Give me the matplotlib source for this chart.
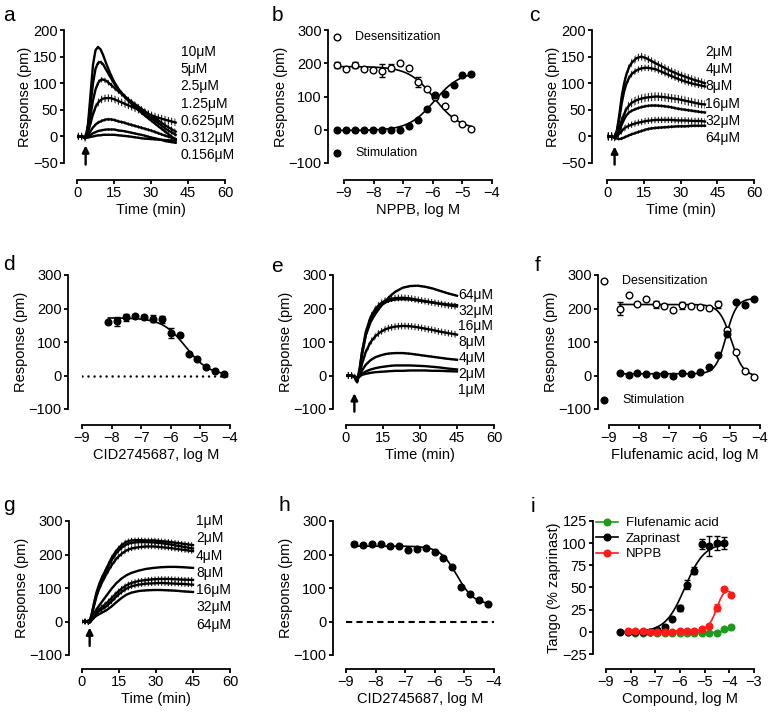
import numpy as np
import matplotlib
matplotlib.use("Agg")
import matplotlib.pyplot as plt

plt.rcParams["font.family"] = ["Liberation Sans", "DejaVu Sans"]
plt.rcParams["hatch.linewidth"] = 0.7

W, H = 768, 714

# ---------------------------------------------- data: time courses (DMR) ---------------------------------------------- #

# panel a: NPPB time course
a_time = [0, 2, 3.5, 4.5, 5.5, 6.5, 7.5, 8.5, 9.5, 10.5, 12, 13.5, 15, 17, 19, 21, 24, 27, 30, 33, 36, 40]
a_labels = ["10μM", "5μM", "2.5μM", "1.25μM", "0.625μM", "0.312μM", "0.156μM"]
a_traces = [
    [0, 0, -3, 25, 80, 135, 162, 168, 164, 154, 135, 118, 103, 88, 76, 66, 53, 41, 30, 19, 8, -6],
    [0, 0, -3, 20, 60, 100, 127, 138, 140, 136, 124, 112, 100, 87, 77, 68, 56, 45, 35, 25, 14, 3],
    [0, 0, -3, 12, 40, 68, 88, 100, 106, 107, 104, 98, 92, 84, 76, 69, 59, 49, 39, 30, 20, 9],
    [0, 0, -3, 8, 25, 42, 55, 63, 68, 71, 72, 72, 70, 66, 62, 58, 52, 46, 40, 35, 31, 26],
    [0, 0, -3, 3, 10, 17, 22, 26, 28, 30, 32, 32, 31, 28, 26, 23, 19, 15, 11, 6, 1, -5],
    [0, 0, -3, 0, 3, 6, 8, 10, 11, 12, 13, 13, 13, 11, 10, 8, 5, 2, -2, -5, -9, -12],
    [0, 0, -3, -2, -1, 0, 1, 2, 2, 3, 3, 3, 3, 2, 1, 0, -2, -4, -5, -6, -7, -8],
]
a_err = [3, 4, 5, 7, 3, 2, 2]
a_arrow = (3.5, -53, -17)

# panel c: flufenamic acid time course
c_time = [0, 2, 3, 4, 5, 6, 7, 8, 9, 10, 12, 14, 16, 18, 20, 23, 26, 29, 32, 35, 38, 40]
c_labels = ["2μM", "4μM", "8μM", "16μM", "32μM", "64μM"]
c_traces = [
    [0, 0, -2, 10, 40, 75, 100, 118, 130, 138, 147, 150, 147, 142, 137, 130, 123, 117, 112, 107, 103, 100],
    [0, 0, -2, 8, 32, 62, 85, 100, 110, 117, 124, 128, 129, 128, 126, 120, 114, 108, 103, 99, 96, 94],
    [0, 0, -2, 3, 15, 30, 42, 52, 58, 63, 68, 71, 73, 74, 75, 74, 72, 70, 67, 64, 61, 60],
    [0, 0, -2, 2, 10, 22, 32, 40, 45, 48, 52, 55, 57, 58, 58, 57, 55, 52, 50, 48, 46, 45],
    [0, 0, -2, 0, 5, 10, 15, 18, 20, 22, 25, 27, 29, 30, 31, 31, 31, 30, 30, 29, 29, 28],
    [0, 0, -2, -4, -5, -4, -2, 0, 2, 4, 7, 10, 13, 15, 16, 17, 18, 19, 19, 20, 20, 20],
]
c_err = [7, 6, 8, 3, 6, 3]
c_arrow = (3.1, -53, -19)

# panel e: CID2745687 time course
e_time = [0, 2, 3, 4, 4.5, 5.5, 6.5, 8, 10, 12, 14, 16, 18, 20, 23, 26, 29, 32, 35, 38, 41, 45]
e_labels = ["64μM", "32μM", "16μM", "8μM", "4μM", "2μM", "1μM"]
e_traces = [
    [0, 0, -2, -10, -15, 20, 70, 120, 160, 185, 205, 222, 238, 250, 262, 267, 268, 265, 260, 253, 246, 238],
    [0, 0, -2, -10, -20, 15, 70, 130, 175, 200, 215, 224, 229, 231, 232, 230, 226, 222, 218, 214, 210, 206],
    [0, 0, -2, -10, -20, 10, 60, 120, 168, 195, 210, 218, 224, 227, 228, 227, 224, 221, 218, 215, 212, 210],
    [0, 0, -2, -8, -15, 5, 35, 70, 100, 118, 130, 138, 143, 146, 148, 147, 144, 140, 136, 131, 127, 122],
    [0, 0, -2, -6, -12, 0, 15, 32, 46, 55, 60, 64, 66, 67, 67, 65, 62, 59, 56, 53, 50, 47],
    [0, 0, -2, -5, -10, -3, 5, 12, 18, 22, 25, 27, 29, 30, 30, 30, 29, 28, 26, 24, 21, 18],
    [0, 0, -2, -4, -8, -3, 2, 5, 8, 10, 11, 12, 13, 14, 14, 15, 15, 15, 14, 14, 13, 12],
]
e_err = [3, 10, 4, 10, 3, 2, 2]
e_arrow = (3.4, -108, -53)

# panel g: CID2745687 time course (second cell line)
g_time = [0, 2, 3, 4, 5, 6, 7, 8, 10, 12, 14, 16, 18, 20, 23, 26, 29, 32, 35, 38, 41, 45]
g_labels = ["1μM", "2μM", "4μM", "8μM", "16μM", "32μM", "64μM"]
g_traces = [
    [0, 0, -3, 25, 60, 90, 112, 130, 160, 190, 212, 228, 238, 242, 243, 242, 242, 240, 238, 235, 232, 228],
    [0, 0, -3, 22, 55, 85, 107, 125, 155, 183, 205, 220, 230, 235, 237, 237, 236, 234, 231, 227, 223, 218],
    [0, 0, -3, 20, 50, 78, 98, 115, 143, 168, 188, 202, 212, 218, 222, 224, 224, 222, 220, 217, 214, 210],
    [0, 0, -3, 10, 25, 38, 48, 58, 78, 98, 115, 128, 138, 145, 152, 157, 160, 162, 163, 163, 162, 160],
    [0, 0, -3, 8, 20, 30, 37, 43, 55, 70, 85, 98, 108, 115, 121, 124, 126, 127, 127, 126, 125, 124],
    [0, 0, -3, 6, 16, 25, 31, 36, 46, 60, 75, 88, 98, 105, 110, 113, 114, 115, 114, 113, 112, 110],
    [0, 0, -3, 4, 12, 18, 22, 26, 34, 45, 58, 70, 80, 86, 91, 93, 94, 94, 93, 92, 90, 88],
]
g_err = [8, 8, 8, 2, 8, 8, 3]
g_arrow = (3.1, -73, -18)

# ---------------------------------------------- data: dose responses ---------------------------------------------- #

# panel b: NPPB
b_logM = [-9.24, -8.94, -8.63, -8.33, -8.03, -7.72, -7.42, -7.12, -6.81, -6.51, -6.21, -5.91, -5.60, -5.30, -5.00, -4.70]
b_desens = [195, 183, 195, 182, 180, 178, 187, 200, 187, 145, 122, 100, 70, 35, 18, 1]
b_desens_err = [8, 0, 10, 0, 0, 20, 10, 5, 0, 15, 0, 0, 0, 0, 0, 0]
b_stim = [0, 0, 0, 0, -2, -2, 0, 0, 12, 30, 63, 105, 107, 135, 165, 168]
b_desens_fit = (0, 190, -5.95, -1.0)
b_stim_fit = (-2, 175, -5.95, 1.0)

# panel d: CID2745687
d_logM = [-8.11, -7.81, -7.51, -7.21, -6.91, -6.61, -6.31, -6.00, -5.70, -5.40, -5.10, -4.80, -4.50, -4.20]
d_resp = [159, 162, 174, 177, 175, 170, 168, 127, 120, 64, 50, 25, 14, 3]
d_err = [0, 14, 10, 5, 6, 10, 10, 15, 0, 0, 0, 0, 0, 0]
d_fit = (0, 172, -5.5, -1.1)

# panel f: flufenamic acid
f_logM = [-8.65, -8.35, -8.06, -7.76, -7.46, -7.17, -6.87, -6.57, -6.28, -5.98, -5.68, -5.39, -5.09, -4.79, -4.50, -4.20]
f_desens = [200, 239, 214, 227, 212, 207, 195, 209, 207, 205, 202, 212, 135, 70, 14, -3]
f_desens_err = [20, 0, 0, 0, 10, 0, 0, 10, 0, 0, 0, 10, 0, 0, 0, 0]
f_stim = [7, 2, 7, 4, 2, 5, 0, 7, 4, 9, 24, 60, 125, 220, 210, 227]
f_desens_fit = (-3, 212, -4.95, -2.2)
f_stim_fit = (5, 230, -5.12, 2.5)

# panel h: CID2745687 (second cell line)
h_logM = [-8.72, -8.42, -8.12, -7.82, -7.52, -7.21, -6.91, -6.61, -6.31, -6.01, -5.71, -5.41, -5.11, -4.80, -4.50, -4.20]
h_resp = [230, 228, 232, 230, 225, 225, 212, 216, 218, 207, 190, 162, 103, 83, 65, 52]
h_err = [6, 4, 0, 0, 0, 0, 0, 0, 0, 0, 0, 0, 0, 0, 0, 0]
h_fit = (50, 225, -5.25, -1.5)

# panel i: Tango assay
i_zap_logM = [-8.42, -8.12, -7.82, -7.52, -7.22, -6.92, -6.62, -6.32, -6.02, -5.72, -5.42, -5.12, -4.82, -4.52, -4.22]
i_zap = [0, 0, 0, 0, 0, 2, 6, 15, 27, 53, 69, 99, 97, 100, 100]
i_zap_err = [0, 0, 0, 0, 0, 1, 2, 2, 3, 5, 4, 6, 11, 8, 7]
i_logM = [-8.12, -7.82, -7.52, -7.22, -6.92, -6.62, -6.32, -6.02, -5.72, -5.42, -5.12, -4.82, -4.52, -4.22, -3.92]
i_fluf = [0, -1, -1, 0, -1, -1, -1, -1, -1, -1, -1, -1, -1, 3, 5]
i_nppb = [1, 1, 1, 0, 0, 0, 0, 1, 1, 1, 3, 7, 27, 48, 41]
i_nppb_err = [0, 0, 0, 0, 0, 0, 0, 0, 0, 0, 0, 0, 4, 0, 0]
i_zap_fit = (0, 100, -5.8, 1.1)
i_fluf_fit = (-1, 9, -3.9, 2.0)
i_nppb_fit = (1, 55, -4.5, 2.5, -3.6, 2.0)

GREEN = "#1f9a1f"
RED = "#ff1a1a"
TICK_FS = 10.5
LABEL_FS = 10.5


def logistic(x, bottom, top, logec50, hill):
    return bottom + (top - bottom) / (1 + 10 ** ((logec50 - x) * hill))


def bell(x, bottom, top, logec50, h1, logic50, h2):
    up = 1 / (1 + 10 ** ((logec50 - x) * h1))
    down = 1 / (1 + 10 ** ((x - logic50) * h2))
    return bottom + (top - bottom) * up * down


def make_axes(box, xlim, ylim, xticks, yticks, left_off, bottom_off):
    """Prism-style axes from a pixel box (x0, y0, x1, y1) of the data area."""
    x0, y0, x1, y1 = box
    ax = fig.add_axes([x0 / W, 1 - y1 / H, (x1 - x0) / W, (y1 - y0) / H])
    ax.set_xlim(*xlim)
    ax.set_ylim(*ylim)
    ax.set_xticks(xticks)
    ax.set_yticks(yticks)
    for side in ["top", "right"]:
        ax.spines[side].set_visible(False)
    ax.spines["left"].set_position(("outward", left_off * 0.72))
    ax.spines["bottom"].set_position(("outward", bottom_off * 0.72))
    for side in ["left", "bottom"]:
        ax.spines[side].set_linewidth(1.3)
    ax.tick_params(direction="out", length=3, width=1.3, labelsize=TICK_FS, pad=1.5)
    ax.patch.set_visible(False)
    return ax


def time_panel(ax, t, traces, errs, labels, arrow, lab_x, lab_y, lab_step):
    t = np.asarray(t)
    for y, e in zip(traces, errs):
        y = np.asarray(y, dtype=float)
        ax.fill_between(t, y - e, y + e, facecolor="none", edgecolor="k", hatch="|||||", linewidth=0)
        ax.plot(t, y, color="k", lw=1.7, solid_joinstyle="round")
    for k, lab in enumerate(labels):
        ax.text(lab_x, lab_y - k * lab_step, lab, transform=ax.transAxes, fontsize=10, va="center", ha="left")
    ax.annotate("", xy=(arrow[0], arrow[2]), xytext=(arrow[0], arrow[1]), annotation_clip=False,
                arrowprops=dict(arrowstyle="-|>", lw=1.7, color="k", mutation_scale=10, shrinkA=0, shrinkB=0))
    ax.set_xlabel("Time (min)", fontsize=LABEL_FS, labelpad=2)


def dose_points(ax, x, y, err, filled=True, color="k"):
    x, y, err = np.asarray(x), np.asarray(y), np.asarray(err)
    m = err > 0
    if m.any():
        eb = ax.errorbar(x[m], y[m], yerr=err[m], fmt="none", ecolor=color, elinewidth=1, capsize=2.5, capthick=1, zorder=2)
        for art in eb.get_children():
            art.set_clip_on(False)
    ax.plot(x, y, "o", ms=4.8, mec=color, mfc=color if filled else "white", mew=1, clip_on=False, zorder=3)


def fit_line(ax, x, params, func=logistic, color="k"):
    xs = np.linspace(min(x), max(x), 200)
    ax.plot(xs, func(xs, *params), color=color, lw=1.2, clip_on=False, zorder=1)


def legend_marker(ax, x, y, text, filled, tx):
    ax.plot([x], [y], "o", ms=4.8, mec="k", mfc="k" if filled else "white", mew=1, clip_on=False)
    ax.text(tx, y, text, fontsize=9, va="center", ha="left")


fig = plt.figure(figsize=(W / 100, H / 100), dpi=100)

# ---------------------------------------------- row 1 ---------------------------------------------- #

ax = make_axes((77, 30, 225, 163), (0, 60), (-50, 200), [0, 15, 30, 45, 60], [-50, 0, 50, 100, 150, 200], 13, 17)
time_panel(ax, a_time, a_traces, a_err, a_labels, a_arrow, 0.70, 0.837, 0.13)
ax.set_ylabel("Response (pm)", fontsize=LABEL_FS, labelpad=0.5)

ax = make_axes((344, 30, 492, 163), (-9, -4), (-100, 300), [-9, -8, -7, -6, -5, -4], [-100, 0, 100, 200, 300], 16, 17)
fit_line(ax, b_logM, b_desens_fit)
fit_line(ax, b_logM, b_stim_fit)
dose_points(ax, b_logM, b_desens, b_desens_err, filled=False)
dose_points(ax, b_logM, b_stim, [0] * len(b_stim), filled=True)
legend_marker(ax, -9.25, 280, "Desensitization", False, -8.63)
legend_marker(ax, -9.25, -70, "Stimulation", True, -8.63)
ax.set_xlabel("NPPB, log M", fontsize=LABEL_FS, labelpad=2)
ax.set_ylabel("Response (pm)", fontsize=LABEL_FS, labelpad=0.5)

ax = make_axes((607, 30, 754, 163), (0, 60), (-50, 200), [0, 15, 30, 45, 60], [-50, 0, 50, 100, 150, 200], 15, 17)
time_panel(ax, c_time, c_traces, c_err, c_labels, c_arrow, 0.67, 0.837, 0.13)
ax.set_ylabel("Response (pm)", fontsize=LABEL_FS, labelpad=0.5)

# ---------------------------------------------- row 2 ---------------------------------------------- #

ax = make_axes((82, 275, 230, 409), (-9, -4), (-100, 300), [-9, -8, -7, -6, -5, -4], [-100, 0, 100, 200, 300], 14, 16)
ax.axhline(0, color="k", lw=1.8, ls=(0, (0.01, 2.4)), dash_capstyle="round")
fit_line(ax, d_logM, d_fit)
dose_points(ax, d_logM, d_resp, d_err)
ax.set_xlabel("CID2745687, log M", fontsize=LABEL_FS, labelpad=2)
ax.set_ylabel("Response (pm)", fontsize=LABEL_FS, labelpad=0.5)

ax = make_axes((346, 275, 494, 409), (0, 60), (-100, 300), [0, 15, 30, 45, 60], [-100, 0, 100, 200, 300], 13, 16)
time_panel(ax, e_time, e_traces, e_err, e_labels, e_arrow, 0.76, 0.853, 0.118)
ax.set_ylabel("Response (pm)", fontsize=LABEL_FS, labelpad=0.5)

ax = make_axes((609, 275, 760, 409), (-9, -4), (-100, 300), [-9, -8, -7, -6, -5, -4], [-100, 0, 100, 200, 300], 11, 16)
fit_line(ax, f_logM, f_desens_fit)
fit_line(ax, f_logM, f_stim_fit)
dose_points(ax, f_logM, f_desens, f_desens_err, filled=False)
dose_points(ax, f_logM, f_stim, [0] * len(f_stim), filled=True)
legend_marker(ax, -9.18, 282, "Desensitization", False, -8.57)
legend_marker(ax, -9.18, -74, "Stimulation", True, -8.57)
ax.set_xlabel("Flufenamic acid, log M", fontsize=LABEL_FS, labelpad=2)
ax.set_ylabel("Response (pm)", fontsize=LABEL_FS, labelpad=0.5)

# ---------------------------------------------- row 3 ---------------------------------------------- #

ax = make_axes((82, 521, 230, 655), (0, 60), (-100, 300), [0, 15, 30, 45, 60], [-100, 0, 100, 200, 300], 13, 14)
time_panel(ax, g_time, g_traces, g_err, g_labels, g_arrow, 0.77, 1.0, 0.129)
ax.set_ylabel("Response (pm)", fontsize=LABEL_FS, labelpad=0.5)

ax = make_axes((346, 521, 494, 655), (-9, -4), (-100, 300), [-9, -8, -7, -6, -5, -4], [-100, 0, 100, 200, 300], 13, 14)
ax.axhline(0, color="k", lw=1.5, ls=(0, (3, 2)))
fit_line(ax, h_logM, h_fit)
dose_points(ax, h_logM, h_resp, h_err)
ax.set_xlabel("CID2745687, log M", fontsize=LABEL_FS, labelpad=2)
ax.set_ylabel("Response (pm)", fontsize=LABEL_FS, labelpad=0.5)

ax = make_axes((606, 521, 754, 654), (-9, -3), (-25, 125), [-9, -8, -7, -6, -5, -4, -3], [-25, 0, 25, 50, 75, 100, 125], 13, 15)
fit_line(ax, i_logM, i_fluf_fit, color=GREEN)
fit_line(ax, i_zap_logM, i_zap_fit, color="k")
fit_line(ax, i_logM, i_nppb_fit, func=bell, color=RED)
dose_points(ax, i_logM, i_fluf, [0] * len(i_fluf), color=GREEN)
dose_points(ax, i_zap_logM, i_zap, i_zap_err, color="k")
dose_points(ax, i_logM, i_nppb, i_nppb_err, color=RED)
handles = [
    plt.Line2D([], [], color=c, lw=1.2, marker="o", ms=4.8) for c in [GREEN, "k", RED]
]
ax.legend(handles, ["Flufenamic acid", "Zaprinast", "NPPB"], loc="upper left", bbox_to_anchor=(-0.1, 1.07),
          frameon=False, fontsize=9.5, handlelength=1.6, handletextpad=0.6, labelspacing=0.25, borderaxespad=0)
ax.set_xlabel("Compound, log M", fontsize=LABEL_FS, labelpad=2)
ax.set_ylabel("Tango (% zaprinast)", fontsize=LABEL_FS, labelpad=0.5)

# ---------------------------------------------- panel letters ---------------------------------------------- #

letters = ["a", "b", "c", "d", "e", "f", "g", "h", "i"]
letter_pos = [(3, 21), (272, 21), (529, 21), (3, 270), (271, 272), (535, 271), (3, 511), (278, 511), (531, 512)]
for letter, (px, py) in zip(letters, letter_pos):
    fig.text(px / W, 1 - py / H, letter, fontsize=15, va="baseline", ha="left")

fig.savefig("out.png", dpi=100)
